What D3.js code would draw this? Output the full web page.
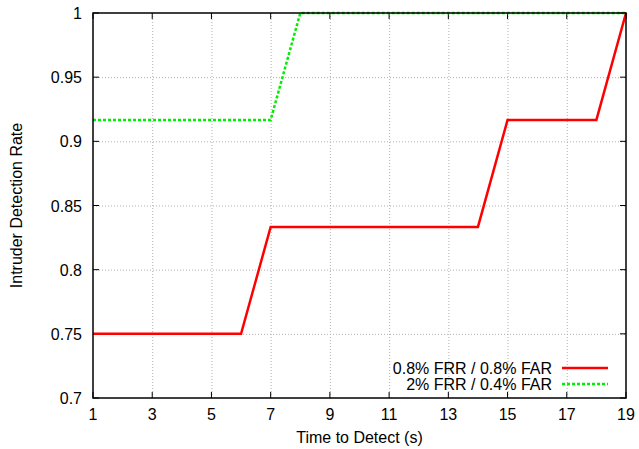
<!DOCTYPE html>
<html>
  <head>
    <meta charset="utf-8">
    <title>Intruder Detection Rate</title>
    <script src="https://d3js.org/d3.v7.min.js"></script>
    <style>
      body { margin: 0; background: #fff; }
      svg text { font-family: "Liberation Sans", Arial, sans-serif; font-size: 16px; fill: #000; }
      .grid line { stroke: #b0b0b0; stroke-width: 1px; stroke-dasharray: 1,2; }
      .grid path { display: none; }
      .frame { fill: none; stroke: #000; stroke-width: 1.5px; }
      .tick-mark { stroke: #000; stroke-width: 1px; }
      .red-line { fill: none; stroke: #ff0000; stroke-width: 2.5px; }
      .green-line { fill: none; stroke: #00ee00; stroke-width: 2.5px; stroke-dasharray: 3,2; }
    </style>
  </head>
  <body>
<script>

// data
var times = [1,2,3,4,5,6,7,8,9,10,11,12,13,14,15,16,17,18,19];
var redRate   = [0.75,0.75,0.75,0.75,0.75,0.75,0.8333,0.8333,0.8333,0.8333,0.8333,0.8333,0.8333,0.8333,0.9167,0.9167,0.9167,0.9167,1.0];
var greenRate = [0.9167,0.9167,0.9167,0.9167,0.9167,0.9167,0.9167,1,1,1,1,1,1,1,1,1,1,1,1];
var xTicks = [1,3,5,7,9,11,13,15,17,19];
var yTicks = [0.7,0.75,0.8,0.85,0.9,0.95,1];
var seriesNames = ["0.8% FRR / 0.8% FAR", "2% FRR / 0.4% FAR"];

var margin = {top: 13, right: 13, bottom: 51, left: 93},
    width = 639 - margin.left - margin.right,
    height = 449 - margin.top - margin.bottom;

var x = d3.scaleLinear().domain([1, 19]).range([0, width]);
var y = d3.scaleLinear().domain([0.7, 1]).range([height, 0]);

var svg = d3.select("body").append("svg")
    .attr("width", 639)
    .attr("height", 449)
  .append("g")
    .attr("transform", "translate(" + margin.left + "," + margin.top + ")");

// gridlines
svg.append("g")
    .attr("class", "grid")
    .attr("transform", "translate(0," + height + ")")
    .call(d3.axisBottom(x).tickValues(xTicks.slice(1, -1)).tickSize(-height).tickFormat(""));

svg.append("g")
    .attr("class", "grid")
    .call(d3.axisLeft(y).tickValues(yTicks.slice(1, -1)).tickSize(-width).tickFormat(""));

// tick marks, inward on all four sides like gnuplot
xTicks.forEach(function(t) {
  svg.append("line").attr("class", "tick-mark")
    .attr("x1", x(t)).attr("x2", x(t)).attr("y1", height).attr("y2", height - 6);
  svg.append("line").attr("class", "tick-mark")
    .attr("x1", x(t)).attr("x2", x(t)).attr("y1", 0).attr("y2", 6);
  svg.append("text")
    .attr("x", x(t)).attr("y", height + 22)
    .style("text-anchor", "middle")
    .text(t);
});

yTicks.forEach(function(t) {
  svg.append("line").attr("class", "tick-mark")
    .attr("x1", 0).attr("x2", 6).attr("y1", y(t)).attr("y2", y(t));
  svg.append("line").attr("class", "tick-mark")
    .attr("x1", width).attr("x2", width - 6).attr("y1", y(t)).attr("y2", y(t));
  svg.append("text")
    .attr("x", -11).attr("y", y(t) + 6)
    .style("text-anchor", "end")
    .text(d3.format("~g")(t));
});

var line = d3.line()
    .x(function(d) { return x(d[0]); })
    .y(function(d) { return y(d[1]); });

svg.append("path")
    .datum(d3.zip(times, redRate))
    .attr("class", "red-line")
    .attr("d", line);

svg.append("path")
    .datum(d3.zip(times, greenRate))
    .attr("class", "green-line")
    .attr("d", line);

svg.append("rect")
    .attr("class", "frame")
    .attr("width", width)
    .attr("height", height);

// legend
var legend = svg.append("g")
    .attr("transform", "translate(" + (width - 64) + "," + (height - 30) + ")");
["red-line", "green-line"].forEach(function(cls, i) {
  legend.append("text")
    .attr("x", -10).attr("y", i * 16 + 6)
    .style("text-anchor", "end")
    .text(seriesNames[i]);
  legend.append("line")
    .attr("class", cls)
    .attr("x1", 0).attr("x2", 46)
    .attr("y1", i * 16).attr("y2", i * 16);
});

// axis labels
svg.append("text")
    .attr("x", width / 2)
    .attr("y", height + 45)
    .style("text-anchor", "middle")
    .text("Time to Detect (s)");

svg.append("text")
    .attr("transform", "rotate(-90)")
    .attr("x", -height / 2)
    .attr("y", -71)
    .style("text-anchor", "middle")
    .text("Intruder Detection Rate");

</script>
</body>
</html>
